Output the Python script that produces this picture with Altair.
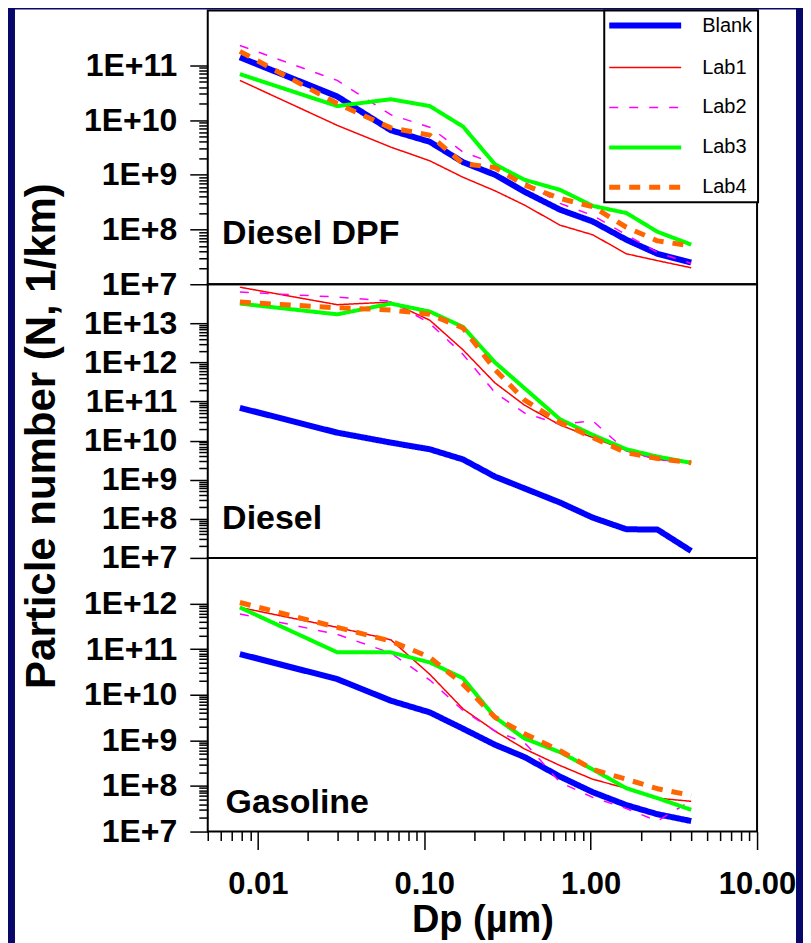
import altair as alt
import pandas as pd

# ---------------- data ----------------
DP = [0.0078, 0.030, 0.063, 0.108, 0.171, 0.266, 0.40, 0.655, 1.03, 1.64, 2.52, 4.02]
SERIES = ["Blank", "Lab1", "Lab2", "Lab3", "Lab4"]

DPF_BLANK = [1.4e11, 2.7e10, 6.5e9, 4.0e9, 1.7e9, 1.0e9, 4.9e8, 2.3e8, 1.4e8, 6.5e7, 3.6e7, 2.5e7]
DPF_LAB1 = [5.3e10, 8.0e9, 3.2e9, 1.8e9, 9.0e8, 5.1e8, 2.8e8, 1.2e8, 8.0e7, 3.6e7, 2.7e7, 2.0e7]
DPF_LAB2 = [2.3e11, 5.3e10, 1.25e10, 7.4e9, 2.6e9, 1.6e9, 7.4e8, 3.0e8, 1.8e8, 8.0e7, 3.8e7, 2.4e7]
DPF_LAB3 = [6.9e10, 1.8e10, 2.4e10, 1.8e10, 7.6e9, 1.55e9, 8.1e8, 5.3e8, 2.7e8, 2.0e8, 9.1e7, 5.3e7]
DPF_LAB4 = [1.8e11, 2.0e10, 7.2e9, 5.3e9, 1.6e9, 1.35e9, 6.5e8, 3.7e8, 2.6e8, 1.1e8, 6.2e7, 5.0e7]

DIESEL_BLANK = [6.9e10, 1.6e10, 8.9e9, 6.0e9, 3.3e9, 1.2e9, 6.0e8, 2.6e8, 1.07e8, 5.4e7, 5.3e7, 1.5e7]
DIESEL_LAB1 = [8.4e13, 3.0e13, 3.5e13, 1.2e13, 2.1e12, 3.0e11, 8.1e10, 2.5e10, 1.2e10, 5.6e9, 3.3e9, 2.7e9]
DIESEL_LAB2 = [6.3e13, 4.7e13, 3.7e13, 1.0e13, 1.6e12, 1.7e11, 5.1e10, 2.6e10, 3.2e10, 5.4e9, 3.3e9, 2.7e9]
DIESEL_LAB3 = [3.2e13, 1.7e13, 3.2e13, 2.0e13, 8.1e12, 1.0e12, 2.2e11, 3.5e10, 1.4e10, 6.0e9, 3.9e9, 2.7e9]
DIESEL_LAB4 = [3.5e13, 2.5e13, 2.2e13, 1.7e13, 7.6e12, 6.6e11, 1.1e11, 2.9e10, 1.2e10, 4.9e9, 3.5e9, 2.7e9]

GAS_BLANK = [7.8e10, 2.2e10, 7.4e9, 4.1e9, 1.8e9, 8.0e8, 4.3e8, 1.6e8, 7.3e7, 3.8e7, 2.4e7, 1.7e7]
GAS_LAB1 = [8.2e11, 3.0e11, 1.6e11, 2.8e10, 4.9e9, 1.6e9, 6.5e8, 2.8e8, 1.4e8, 8.9e7, 5.4e7, 4.6e7]
GAS_LAB2 = [5.9e11, 2.1e11, 8.2e10, 2.1e10, 4.5e9, 1.6e9, 9.0e8, 1.2e8, 5.6e7, 3.2e7, 1.7e7, 4.8e7]
GAS_LAB3 = [8.2e11, 8.5e10, 8.5e10, 5.1e10, 2.3e10, 3.2e9, 1.1e9, 5.5e8, 2.3e8, 8.9e7, 5.4e7, 3.0e7]
GAS_LAB4 = [1.05e12, 3.0e11, 1.5e11, 6.6e10, 1.7e10, 3.2e9, 1.4e9, 5.9e8, 2.3e8, 1.4e8, 8.7e7, 6.2e7]

PANEL_NAMES = ["Diesel DPF", "Diesel", "Gasoline"]
PANEL_DATA = {
    "Diesel DPF": [DPF_BLANK, DPF_LAB1, DPF_LAB2, DPF_LAB3, DPF_LAB4],
    "Diesel": [DIESEL_BLANK, DIESEL_LAB1, DIESEL_LAB2, DIESEL_LAB3, DIESEL_LAB4],
    "Gasoline": [GAS_BLANK, GAS_LAB1, GAS_LAB2, GAS_LAB3, GAS_LAB4],
}
# y-axis decades (exponent of bottom, exponent of top) per panel
PANEL_DECADES = {"Diesel DPF": (7, 12), "Diesel": (7, 14), "Gasoline": (7, 13)}
# anchor of the panel caption in data units
PANEL_LABEL_AT = {"Diesel DPF": (0.0061, 5.4e7), "Diesel": (0.0061, 5.5e7), "Gasoline": (0.0064, 2.6e7)}

X_DOMAIN = [0.005, 10]
X_MAJOR = [0.01, 0.1, 1.0, 10.0]
X_MINOR = [m * 0.001 for m in range(5, 10)] + \
    [m * 10.0 ** d for d in range(-2, 1) for m in range(2, 10)]
X_TITLE = "Dp (µm)"
Y_TITLE = "Particle number (N, 1/km)"

# ---------------- styling ----------------
FONT = "Liberation Sans"
NAVY = "#08086a"
COLORS = ["#0000ff", "#ff0000", "#ff00ff", "#00ff00", "#ff6600"]
DASHES = [[1, 0], [1, 0], [9, 11], [1, 0], [11, 9]]
WIDTHS = [6, 1.5, 1.5, 4, 5]
PLOT_W = 550
PANEL_H = {"Diesel DPF": 274, "Diesel": 274, "Gasoline": 274}

rows = []
for pname in PANEL_NAMES:
    for s, vals in zip(SERIES, PANEL_DATA[pname]):
        for dp, n in zip(DP, vals):
            rows.append({"Panel": pname, "Series": s, "Dp": dp, "N": n})
df = pd.DataFrame(rows)

x_scale = alt.Scale(type="log", domain=X_DOMAIN, nice=False)

TICK_STYLE = dict(tickColor="black", tickWidth=1.5, domain=False, grid=False)

x_axis_minor = alt.Axis(values=X_MINOR, tickSize=9, labels=False, title=None,
                        orient="bottom", **TICK_STYLE)
x_axis_major = alt.Axis(
    values=X_MAJOR, tickSize=18, format=".2f", orient="bottom",
    labelFont=FONT, labelFontSize=31, labelFontWeight="bold", labelColor="black",
    labelPadding=20, labelOverlap=False, labelFlush=False, labelBound=False,
    title=X_TITLE, titleFont=FONT, titleFontSize=38, titleFontWeight="bold",
    titleColor="black", titlePadding=2, **TICK_STYLE,
)

legend = alt.Legend(
    title=None, orient="none", legendX=397, legendY=0,
    symbolType="M-7.2,0L7.2,0", symbolSize=100, symbolOffset=26,
    labelOffset=47, padding=5, rowPadding=20,
    labelFont=FONT, labelFontSize=20, labelColor="black",
    fillColor="white", strokeColor="black",
)


def panel(pname, show_x, show_legend):
    lo, hi = PANEL_DECADES[pname]
    y_scale = alt.Scale(type="log", domain=[10.0 ** lo, 10.0 ** hi], nice=False)
    y_major = [10.0 ** d for d in range(lo, hi)]
    y_minor = [m * 10.0 ** d for d in range(lo, hi - 1) for m in range(2, 10)]
    y_axis_minor = alt.Axis(values=y_minor, tickSize=9, labels=False, title=None,
                            orient="left", **TICK_STYLE)
    y_axis_major = alt.Axis(
        values=y_major, tickSize=18, orient="left",
        labelExpr="'1E+' + round(log(datum.value)/LN10)",
        labelFont=FONT, labelFontSize=32, labelFontWeight="bold", labelColor="black",
        labelPadding=13, labelOverlap=False, labelBound=False, title=None, **TICK_STYLE,
    )
    leg = legend if show_legend else None
    lines = alt.Chart(df[df["Panel"] == pname]).mark_line(strokeJoin="round").encode(
        x=alt.X("Dp:Q", scale=x_scale, axis=x_axis_minor if show_x else None),
        y=alt.Y("N:Q", scale=y_scale, axis=y_axis_minor),
        color=alt.Color("Series:N", scale=alt.Scale(domain=SERIES, range=COLORS), legend=leg),
        strokeDash=alt.StrokeDash("Series:N", scale=alt.Scale(domain=SERIES, range=DASHES), legend=leg),
        strokeWidth=alt.StrokeWidth("Series:N",
                                    scale=alt.Scale(type="ordinal", domain=SERIES, range=WIDTHS),
                                    legend=leg),
    )
    lx, ly = PANEL_LABEL_AT[pname]
    lab_df = pd.DataFrame({"Dp": [lx], "N": [ly], "label": [pname]})
    caption = alt.Chart(lab_df).mark_text(
        align="left", baseline="alphabetic", font=FONT, fontSize=34,
        fontWeight="bold", color="black",
    ).encode(
        x=alt.X("Dp:Q", scale=x_scale, axis=x_axis_major if show_x else None),
        y=alt.Y("N:Q", scale=y_scale, axis=y_axis_major),
        text="label:N",
    )
    return alt.layer(lines, caption).resolve_axis(
        x="independent", y="independent"
    ).properties(width=PLOT_W, height=PANEL_H[pname])


# background cell: white sheet behind everything + vertical y title
bg_df = pd.DataFrame({"t": [Y_TITLE]})
sheet = alt.Chart(bg_df).mark_rect(color="white").encode(
    x=alt.value(-193), x2=alt.value(589), y=alt.value(0), y2=alt.value(935)
)
ytitle = alt.Chart(bg_df).mark_text(
    angle=270, align="center", baseline="middle", font=FONT, fontSize=42,
    fontWeight="bold", color="black",
).encode(x=alt.value(-166), y=alt.value(427), text="t:N")
bg = alt.layer(sheet, ytitle).properties(
    width=PLOT_W, height=1, view=alt.ViewBackground(strokeOpacity=0)
)

chart = alt.vconcat(
    bg,
    panel("Diesel DPF", False, True),
    panel("Diesel", False, False),
    panel("Gasoline", True, False),
    spacing=0, bounds="flush",
).resolve_legend(
    color="independent", strokeDash="independent", strokeWidth="independent"
).properties(
    padding={"left": 7, "top": 0, "right": 6, "bottom": 0},
    background=NAVY,
).configure_view(
    stroke="black", strokeWidth=2
).configure_legend(
    strokeWidth=2
)

chart.save("out.html", embed_options={"renderer": "svg", "actions": False})
